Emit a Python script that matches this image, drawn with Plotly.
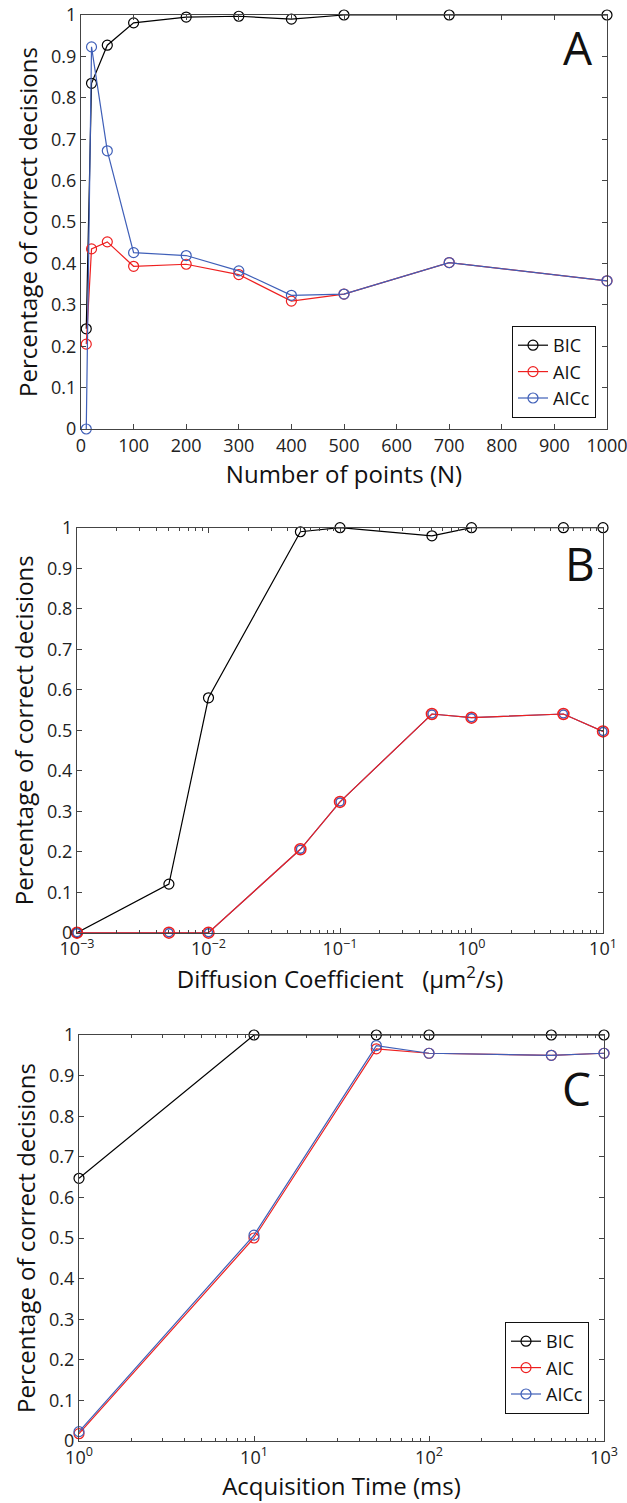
import plotly.graph_objects as go

# ---------------- Data ----------------
# Panel A: Number of points
n_points = [10, 20, 50, 100, 200, 300, 400, 500, 700, 1000]
a_bic = [0.242, 0.835, 0.927, 0.981, 0.995, 0.997, 0.990, 1.0, 1.0, 1.0]
a_aic = [0.205, 0.435, 0.452, 0.393, 0.398, 0.373, 0.309, 0.326, 0.402, 0.358]
a_aicc = [0.0, 0.923, 0.672, 0.426, 0.419, 0.382, 0.323, 0.326, 0.402, 0.358]

# Panel B: Diffusion coefficient
diff_coef = [0.001, 0.005, 0.01, 0.05, 0.1, 0.5, 1, 5, 10]
b_bic = [0.0, 0.12, 0.58, 0.99, 1.0, 0.98, 1.0, 1.0, 1.0]
b_aic = [0.0, 0.0, 0.0, 0.206, 0.323, 0.54, 0.531, 0.54, 0.497]
b_aicc = [0.0, 0.0, 0.0, 0.206, 0.323, 0.54, 0.531, 0.54, 0.497]

# Panel C: Acquisition time
acq_time = [1, 10, 50, 100, 500, 1000]
c_bic = [0.647, 1.0, 1.0, 1.0, 1.0, 1.0]
c_aic = [0.018, 0.50, 0.966, 0.955, 0.950, 0.955]
c_aicc = [0.023, 0.507, 0.974, 0.955, 0.950, 0.955]

# Tick labels
b_tickvals = [0.001, 0.01, 0.1, 1, 10]
b_ticktext = ["10<sup>\u22123</sup>", "10<sup>\u22122</sup>", "10<sup>\u22121</sup>",
              "10<sup>0</sup>", "10<sup>1</sup>"]
c_tickvals = [1, 10, 100, 1000]
c_ticktext = ["10<sup>0</sup>", "10<sup>1</sup>", "10<sup>2</sup>", "10<sup>3</sup>"]

series_names = ["BIC", "AIC", "AICc"]
panel_letters = ["A", "B", "C"]
y_title = "Percentage of correct decisions"
x_titles = ["Number of points (N)",
            "Diffusion Coefficient   (\u03bcm<sup>2</sup>/s)",
            "Acquisition Time (ms)"]

# ---------------- Style ----------------
FONT = "Open Sans"
BLACK = "#000000"
RED = "#ee2020"
BLUE = "#3f5fb8"
AXC = "#444444"
W, H = 627, 1503

fig = go.Figure()


def add(xs, ys, name, color, xa, ya, legend=None, show=False, msize=10, mwidth=1.2):
    fig.add_trace(go.Scatter(
        x=xs, y=ys, name=name, mode="lines+markers",
        line=dict(color=color, width=1.2),
        marker=dict(symbol="circle-open", size=msize, color=color,
                    line=dict(width=mwidth, color=color)),
        xaxis=xa, yaxis=ya, showlegend=show,
        legend=legend if legend else "legend",
        cliponaxis=False,
    ))


# Panel A
add(n_points, a_bic, "BIC", BLACK, "x", "y", "legend", True)
add(n_points, a_aic, "AIC", RED, "x", "y", "legend", True)
add(n_points, a_aicc, "AICc", BLUE, "x", "y", "legend", True)

# Panel B (AICc underneath, AIC on top)
add(diff_coef, b_bic, "BIC", BLACK, "x2", "y2")
add(diff_coef, b_aicc, "AICc", BLUE, "x2", "y2", msize=8, mwidth=1.5)
add(diff_coef, b_aic, "AIC", RED, "x2", "y2", msize=11, mwidth=1.5)

# Panel C
add(acq_time, c_bic, "BIC", BLACK, "x3", "y3", "legend2", True)
add(acq_time, c_aic, "AIC", RED, "x3", "y3", "legend2", True)
add(acq_time, c_aicc, "AICc", BLUE, "x3", "y3", "legend2", True)


def px_x(p):
    return p / W


def px_y(p):
    return 1 - p / H


tickfont = dict(family=FONT, size=18, color="#222")
titlefont = dict(family=FONT, size=24, color="#111")

common_axis = dict(
    showline=True, linecolor=AXC, linewidth=1.2, mirror="ticks",
    ticks="inside", ticklen=5, tickcolor=AXC, tickwidth=1,
    showgrid=False, zeroline=False, tickfont=tickfont, title_font=titlefont,
    automargin=False, ticklabeloverflow="allow",
)

ydom = [
    [px_y(429), px_y(15)],
    [px_y(932.7), px_y(527.7)],
    [px_y(1441), px_y(1035)],
]
xdom = [
    [px_x(81), px_x(607)],
    [px_x(77), px_x(603)],
    [px_x(79), px_x(604)],
]

minor_b = [k * 10 ** e for e in range(-3, 1) for k in range(2, 10)]
minor_c = [k * 10 ** e for e in range(0, 3) for k in range(2, 10)]

layout = dict(
    width=W, height=H,
    margin=dict(l=0, r=0, t=0, b=0, autoexpand=False),
    paper_bgcolor="white", plot_bgcolor="white",
    font=dict(family=FONT),
    xaxis=dict(domain=xdom[0], anchor="y", range=[0, 1000], dtick=100,
               title=dict(text=x_titles[0], standoff=0), **common_axis),
    yaxis=dict(domain=ydom[0], anchor="x", range=[0, 1], dtick=0.1,
               title=dict(text=y_title, standoff=6), **common_axis),
    xaxis2=dict(domain=xdom[1], anchor="y2", type="log", range=[-3, 1],
                tickmode="array", tickvals=b_tickvals, ticktext=b_ticktext,
                minor=dict(tickvals=minor_b, ticks="inside", ticklen=3, tickcolor=AXC),
                title=dict(text=x_titles[1], standoff=0), **common_axis),
    yaxis2=dict(domain=ydom[1], anchor="x2", range=[0, 1], dtick=0.1,
                title=dict(text=y_title, standoff=6), **common_axis),
    xaxis3=dict(domain=xdom[2], anchor="y3", type="log", range=[0, 3],
                tickmode="array", tickvals=c_tickvals, ticktext=c_ticktext,
                minor=dict(tickvals=minor_c, ticks="inside", ticklen=3, tickcolor=AXC),
                title=dict(text=x_titles[2], standoff=2), **common_axis),
    yaxis3=dict(domain=ydom[2], anchor="x3", range=[0, 1], dtick=0.1,
                title=dict(text=y_title, standoff=6), **common_axis),
    legend=dict(x=px_x(596), y=px_y(418), xanchor="right", yanchor="bottom",
                bgcolor="white", bordercolor="#111", borderwidth=1,
                font=dict(family=FONT, size=18, color="#111"), tracegroupgap=0),
    legend2=dict(x=px_x(589), y=px_y(1414), xanchor="right", yanchor="bottom",
                 bgcolor="white", bordercolor="#111", borderwidth=1,
                 font=dict(family=FONT, size=18, color="#111"), tracegroupgap=0),
)
fig.update_layout(**layout)

letter_pos = [(578, 47), (580, 563), (576, 1088)]
for letter, (lx, ly) in zip(panel_letters, letter_pos):
    fig.add_annotation(text=letter, x=px_x(lx), y=px_y(ly), xref="paper", yref="paper",
                       showarrow=False, xanchor="center", yanchor="middle",
                       font=dict(family=FONT, size=46, color="#111"))

fig.write_html("out.html")
